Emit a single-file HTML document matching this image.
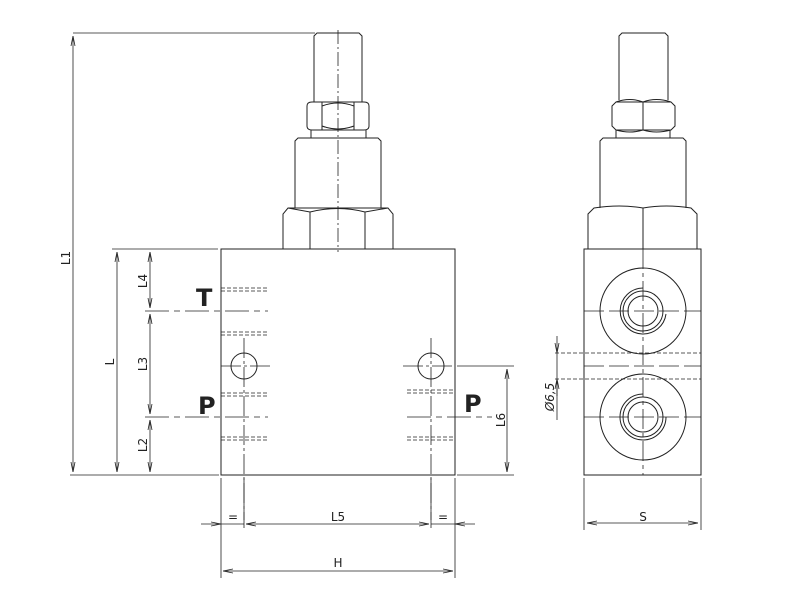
<!DOCTYPE html>
<html><head><meta charset="utf-8"><style>html,body{margin:0;padding:0;background:#fff}svg{display:block}text{font-family:"DejaVu Sans","Liberation Sans",sans-serif;fill:#222}</style></head><body>
<svg width="800" height="600" viewBox="0 0 800 600" xmlns="http://www.w3.org/2000/svg">
<defs><marker id="a" markerWidth="10" markerHeight="6" refX="10" refY="3" orient="auto-start-reverse" markerUnits="userSpaceOnUse"><path d="M0,1 L10,3 L0,5" fill="none" stroke="#222" stroke-width="0.8"/></marker></defs>
<g fill="none" stroke="#222" stroke-width="1">
<path d="M314,102 V36 L317,33 H359 L362,36 V102"/>
<path d="M307,106 Q307,102 312,102 H364 Q369,102 369,106 V126 Q369,130 364,130 H312 Q307,130 307,126 Z"/>
<path d="M322,102 V130 M354,102 V130 M322,106 Q338,100 354,106 M322,126 Q338,132 354,126"/>
<path d="M311,130 V138 M366,130 V138"/>
<path d="M295,208 V141 L298,138 H378 L381,141 V208"/>
<path d="M283,249 V214 L288,208 H388 L393,214 V249 M310,249 V212 M365,249 V212 M288,208 L310,212 Q338,205 365,212 L388,208"/>
<path d="M338,30 V252" stroke-dasharray="14,3,2,3" stroke-width="0.8"/>
<rect x="221" y="249" width="234" height="226"/>
<g stroke-dasharray="4,2" stroke-width="0.8">
<path d="M221,288 H268 M221,291 H268 M221,332 H268 M221,335 H268 M221,393 H268 M221,396 H268 M221,437 H268 M221,440 H268"/>
<path d="M407,390 H455 M407,393 H455 M407,437 H455 M407,440 H455"/>
</g>
<path d="M145,311 H268 M145,417 H268 M407,417 H492" stroke-dasharray="24,5,6,5" stroke-width="0.8"/>
<circle cx="244" cy="366" r="13"/><circle cx="431" cy="366" r="13"/>
<path d="M221,366 H272 M403,366 H455 M244,338 V520 M431,338 V520" stroke-dasharray="20,3,3,3" stroke-width="0.8"/>
<g stroke-width="0.8">
<path d="M73,33 H315 M70,475 H219 M112,249 H218 M457,366 H514 M457,475 H514"/>
<path d="M221,478 V578 M455,478 V578 M244,478 V528 M431,478 V528"/>
<path d="M73,36 V472" marker-start="url(#a)" marker-end="url(#a)"/>
<path d="M117,252 V472" marker-start="url(#a)" marker-end="url(#a)"/>
<path d="M150,252 V308" marker-start="url(#a)" marker-end="url(#a)"/>
<path d="M150,314 V414" marker-start="url(#a)" marker-end="url(#a)"/>
<path d="M150,420 V472" marker-start="url(#a)" marker-end="url(#a)"/>
<path d="M507,369 V472" marker-start="url(#a)" marker-end="url(#a)"/>
<path d="M201,524 H221" marker-end="url(#a)"/><path d="M475,524 H455" marker-end="url(#a)"/>
<path d="M246,524 H429" marker-start="url(#a)" marker-end="url(#a)"/>
<path d="M223,571 H453" marker-start="url(#a)" marker-end="url(#a)"/>
<path d="M221,524 H244 M431,524 H455"/>
</g>
<path d="M619,100 V36 L622,33 H665 L668,36 V100"/>
<path d="M612,106 L616,102 H671 L675,106 V126 L671,130 H616 L612,126 Z M643,102 V130 M616,102 Q630,97 643,102 Q656,97 671,102 M616,130 Q630,134 643,130 Q656,134 671,130"/>
<path d="M616,130 V138 M670,130 V138"/>
<path d="M600,208 V141 L603,138 H683 L686,141 V208"/>
<path d="M588,249 V214 L594,208 Q620,204 643,208 Q666,204 691,208 L697,214 V249 M643,208 V249"/>
<rect x="584" y="249" width="117" height="226"/>
<circle cx="643" cy="311" r="43"/><circle cx="643" cy="311" r="20"/><circle cx="643" cy="311" r="15"/>
<path d="M643,288 A23,23 0 1 0 666,314"/>
<circle cx="643" cy="417" r="43"/><circle cx="643" cy="417" r="20"/><circle cx="643" cy="417" r="15"/>
<path d="M666,417 A23,23 0 1 1 643,394"/>
<path d="M643,249 V475" stroke-dasharray="20,4,4,4" stroke-width="0.8"/>
<path d="M584,311 H701 M584,417 H701 M584,366 H701" stroke-dasharray="20,5" stroke-width="0.8"/>
<path d="M555,353 H701 M555,379 H701" stroke-dasharray="4,2" stroke-width="0.8"/>
<g stroke-width="0.8">
<path d="M557,336 V353" marker-end="url(#a)"/><path d="M557,396 V379" marker-end="url(#a)"/><path d="M557,353 V379"/>
<path d="M557,379 V420"/>
<path d="M584,478 V530 M701,478 V530"/>
<path d="M587,523 H698" marker-start="url(#a)" marker-end="url(#a)"/>
</g>
</g>
<g font-size="12">
<text x="70" y="258" transform="rotate(-90 70 258)" text-anchor="middle">L1</text>
<text x="114" y="362" transform="rotate(-90 114 362)" text-anchor="middle">L</text>
<text x="147" y="281" transform="rotate(-90 147 281)" text-anchor="middle">L4</text>
<text x="147" y="364" transform="rotate(-90 147 364)" text-anchor="middle">L3</text>
<text x="147" y="445" transform="rotate(-90 147 445)" text-anchor="middle">L2</text>
<text x="505" y="420" transform="rotate(-90 505 420)" text-anchor="middle">L6</text>
<text x="554" y="397" transform="rotate(-90 554 397)" text-anchor="middle" font-style="italic">Ø6,5</text>
<text x="338" y="521" text-anchor="middle">L5</text>
<text x="338" y="567" text-anchor="middle">H</text>
<text x="643" y="521" text-anchor="middle">S</text>
<text x="233" y="521" text-anchor="middle">=</text>
<text x="443" y="521" text-anchor="middle">=</text>
</g>
<g font-size="24" font-weight="bold">
<text x="196" y="306">T</text>
<text x="198" y="414">P</text>
<text x="464" y="412">P</text>
</g>
</svg>
</body></html>
